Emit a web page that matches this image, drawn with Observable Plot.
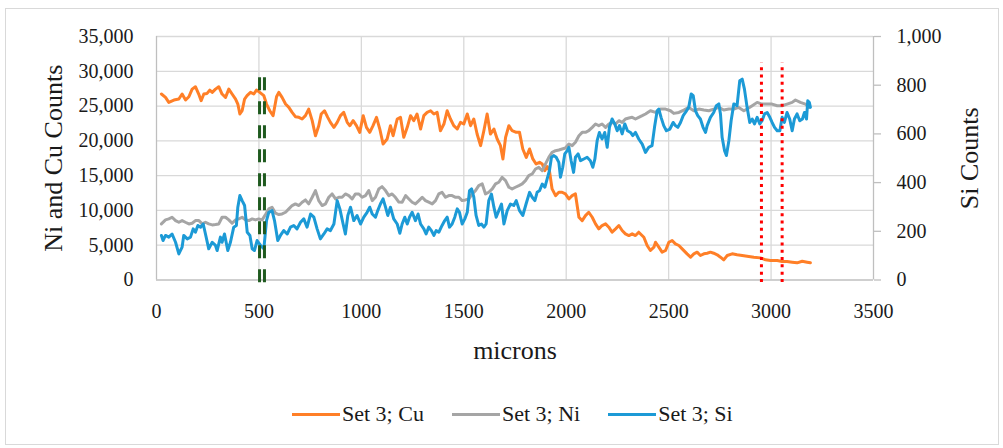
<!DOCTYPE html>
<html>
<head>
<meta charset="utf-8">
<script src="https://cdn.jsdelivr.net/npm/d3@7"></script>
<script src="https://cdn.jsdelivr.net/npm/@observablehq/plot@0.6"></script>
<style>
  html, body { margin: 0; padding: 0; background: #fff; }
  #wrap { position: relative; width: 1003px; height: 448px; font-family: "Liberation Serif", serif; color: #1a1a1a; }
  #frame { position: absolute; left: 5px; top: 8px; width: 994px; height: 437px; border: 1px solid #d9d9d9; box-sizing: border-box; pointer-events: none; }
  #legend { display: flex; align-items: center; height: 68px; padding-left: 292px; font-size: 22px; }
  .item { display: flex; align-items: center; margin-right: 28px; }
  .swatch { display: inline-block; width: 48px; height: 3px; margin-right: 2px; }
</style>
</head>
<body>
<div id="wrap"><div id="frame"></div></div>
<script>
// Line scan profile, Set 3: Cu and Ni counts (left axis), Si counts (right axis)
const cuMicrons = [24,44,60,85,109,125,142,158,174,190,206,218,231,247,260,272,288,304,320,337,353,369,386,397,407,418,430,442,459,475,488,504,524,537,553,569,586,597,613,630,646,662,678,695,711,727,743,760,776,792,804,820,836,849,866,882,898,914,931,944,960,976,992,1009,1025,1041,1057,1074,1090,1106,1126,1142,1155,1175,1191,1207,1224,1240,1256,1272,1289,1305,1321,1338,1354,1370,1386,1403,1419,1435,1451,1468,1484,1500,1517,1533,1549,1565,1582,1598,1614,1630,1647,1663,1679,1691,1704,1720,1736,1756,1772,1788,1805,1821,1837,1853,1870,1883,1896,1907,1918,1931,1948,1964,1980,1996,2013,2029,2045,2062,2078,2094,2110,2127,2143,2159,2175,2192,2208,2224,2241,2257,2273,2289,2306,2322,2338,2354,2379,2395,2411,2428,2436,2452,2468,2485,2501,2517,2533,2550,2566,2590,2607,2623,2639,2655,2672,2688,2704,2720,2737,2753,2769,2786,2810,2834,2859,2883,2916,2948,2973,2997,3030,3054,3078,3103,3127,3152,3176,3192];
const cuCounts = [26730,26250,25530,25870,26010,26730,25870,26340,27440,27780,26730,25770,26730,26820,27300,26970,27440,27780,26730,26250,27440,26730,26010,25290,23860,24330,26010,26490,26970,26730,27300,26970,26490,25290,24330,23620,26340,26970,26250,25290,24810,24090,23470,23380,23140,23620,24570,22900,20740,22180,23860,24330,23380,22660,21940,22660,23620,24090,22660,22180,22900,22180,21220,23620,21940,21220,22180,23380,21700,19550,20270,22180,20740,23140,23380,20510,21940,23620,22900,23860,21700,23620,24090,24330,23860,24090,21460,22420,24330,23140,22180,21700,22660,22420,23860,22180,23140,20980,19310,21460,23860,20980,21700,20270,19310,17400,20510,22180,21460,21220,21220,18830,17630,18830,17400,16680,16920,16680,15720,16300,15720,13090,12130,12610,12610,12370,11650,12130,12370,9020,8540,9260,9740,9020,8070,7350,7830,8070,7590,6870,7350,7830,7110,6630,6390,6630,6390,6870,6150,4960,4240,4720,5430,4720,4000,4240,5430,5670,5190,4960,4480,3760,3280,3760,4000,3520,3760,3850,4000,3850,3620,3280,2900,3520,3760,3620,3520,3420,3280,3180,2900,2800,2800,2660,2660,2560,2470,2700,2560,2470];

const niMicrons = [24,44,60,76,93,109,125,141,158,174,190,207,223,239,255,272,288,304,320,337,353,369,386,402,418,434,451,467,483,499,516,532,548,564,581,597,613,630,646,662,678,695,711,727,743,760,776,792,809,825,841,857,874,890,906,922,939,955,971,988,1004,1020,1036,1053,1069,1085,1101,1118,1134,1150,1166,1183,1199,1216,1232,1248,1264,1281,1297,1313,1329,1346,1362,1378,1394,1411,1427,1443,1460,1476,1492,1508,1525,1541,1557,1573,1590,1606,1622,1639,1655,1671,1687,1704,1720,1736,1752,1769,1785,1801,1817,1834,1850,1866,1883,1899,1915,1931,1948,1964,1980,1996,2013,2029,2045,2062,2078,2094,2110,2127,2143,2159,2175,2192,2208,2224,2241,2257,2273,2289,2306,2322,2338,2354,2371,2387,2411,2436,2460,2485,2509,2525,2550,2574,2598,2623,2647,2672,2696,2720,2745,2769,2794,2818,2842,2867,2883,2908,2932,2956,2981,3005,3030,3054,3078,3103,3119,3143,3168,3184];
const niCounts = [8060,8640,8780,9020,8540,8300,8540,8300,8060,8160,8540,8540,8060,8300,8060,7920,7970,8060,9020,9020,8640,8160,8640,8780,9020,8640,8540,8780,8640,8780,8640,9410,10220,10460,9600,9410,9500,9740,10220,10700,10940,10700,11180,11510,10940,11890,12850,11410,10700,10940,11890,12370,11650,11890,11890,12370,12130,11650,12370,12370,11890,12130,12850,11410,11890,13090,13420,12850,12130,12370,11890,11200,11180,12130,11650,11180,10940,11410,11890,11410,11180,10940,11410,12370,12610,11890,12130,12130,11890,11890,11410,11510,11650,12370,12850,13570,13810,12370,12610,13090,13810,14050,14760,14290,13330,13090,13330,13570,13810,14290,15000,15240,15960,16200,15720,16680,17630,18350,18590,18690,18830,18970,19550,19310,19790,20740,21220,21220,21460,21940,22420,22180,22420,21940,22420,22660,22420,22900,22660,23140,23280,23380,23140,23380,23620,23860,24330,24090,24570,24570,24330,23950,24090,24430,24810,24330,24570,24430,24330,24570,24810,24430,24570,24570,24810,24330,24570,25050,25530,25290,25290,25290,25050,25050,25290,25530,25870,25530,25290,24810];

const siMicrons = [24,32,44,60,76,93,109,125,133,150,166,179,190,202,215,228,239,255,272,288,296,312,320,332,348,361,377,390,397,407,418,430,443,456,467,478,491,508,524,537,548,564,576,592,605,621,638,654,670,686,703,719,735,752,768,784,800,817,833,849,866,882,895,911,922,934,947,963,979,996,1012,1028,1041,1053,1069,1080,1093,1106,1118,1129,1142,1158,1175,1188,1199,1212,1224,1235,1248,1264,1277,1289,1305,1316,1329,1342,1354,1365,1378,1394,1407,1419,1430,1443,1456,1468,1479,1492,1505,1517,1528,1538,1549,1560,1573,1586,1598,1609,1622,1635,1647,1658,1671,1684,1696,1712,1728,1744,1756,1772,1788,1804,1821,1834,1847,1858,1870,1883,1896,1907,1918,1928,1940,1951,1964,1972,1983,1993,2005,2013,2024,2036,2045,2058,2070,2086,2102,2118,2130,2140,2151,2162,2175,2188,2200,2211,2224,2237,2249,2260,2273,2286,2299,2314,2325,2338,2354,2371,2387,2403,2419,2431,2444,2452,2463,2476,2489,2506,2522,2533,2545,2558,2571,2582,2598,2610,2620,2631,2642,2655,2668,2680,2688,2704,2720,2733,2745,2753,2761,2773,2782,2794,2805,2818,2834,2847,2859,2870,2883,2896,2908,2919,2932,2945,2956,2968,2981,2994,3005,3017,3030,3043,3054,3065,3078,3091,3103,3114,3127,3140,3153,3163,3173,3179,3187,3192];
const siCounts = [183,162,183,176,189,155,107,135,183,169,176,210,196,224,217,230,189,128,155,142,121,176,155,189,121,155,217,224,299,347,326,306,196,183,128,121,162,142,128,244,278,285,244,162,183,203,189,217,224,210,237,251,217,271,258,210,169,189,210,203,230,326,292,230,189,265,299,244,265,230,258,278,299,271,258,285,312,333,299,265,299,251,230,192,230,258,230,258,278,244,271,230,210,189,217,203,183,203,196,224,244,258,217,230,258,292,278,230,251,278,367,374,340,265,224,230,217,230,326,353,299,258,285,312,230,285,312,306,326,285,265,312,360,340,326,360,367,394,381,415,449,504,511,504,483,422,463,518,531,545,490,442,504,518,490,497,504,490,463,497,572,606,579,606,545,627,661,641,613,634,600,641,613,606,593,606,579,558,524,545,552,627,695,702,668,634,613,620,647,634,627,647,675,688,709,764,757,695,675,661,627,606,634,668,688,716,723,682,586,531,511,572,654,723,716,818,825,784,709,647,661,641,668,641,654,682,688,668,647,627,613,613,668,647,688,661,613,661,682,654,661,688,661,736,729,709];

// Boundary markers (microns)
const greenMarkers = [503, 527];
const redMarkers = [2953, 3054];

// Axis ticks
const xTicks = [0, 500, 1000, 1500, 2000, 2500, 3000, 3500];
const leftTicks = [0, 5000, 10000, 15000, 20000, 25000, 30000, 35000];
const rightTicks = [0, 200, 400, 600, 800, 1000];

const series = [
  {name: "Set 3; Cu", color: "#ff7f27"},
  {name: "Set 3; Ni", color: "#a5a5a5"},
  {name: "Set 3; Si", color: "#1c9ad6"}
];

// Si is drawn on the secondary axis: 0–1000 shares the pixel range of 0–35,000
const SI_SCALE = 35000 / 1000;

const cu = cuMicrons.map((m, i) => ({m, v: cuCounts[i]}));
const ni = niMicrons.map((m, i) => ({m, v: niCounts[i]}));
const si = siMicrons.map((m, i) => ({m, v: siCounts[i] * SI_SCALE}));

const axisStroke = "#bfbfbf";
const gridStroke = "#d9d9d9";
const textColor = "#1a1a1a";

const chart = Plot.plot({
  width: 1003,
  height: 380,
  marginLeft: 156,
  marginRight: 130,
  marginTop: 36,
  marginBottom: 100.5,
  style: {fontFamily: "Liberation Serif, serif", fontSize: "20px", color: textColor, background: "transparent", overflow: "visible"},
  x: {domain: [0, 3500]},
  y: {domain: [0, 35000]},
  marks: [
    Plot.gridY({ticks: leftTicks.filter(d => d > 0), stroke: gridStroke, strokeOpacity: 1, strokeWidth: 1.3}),
    Plot.gridX({ticks: xTicks.filter(d => d > 0 && d < 3500), stroke: gridStroke, strokeOpacity: 1, strokeWidth: 1.3}),
    Plot.ruleX([0, 3500], {stroke: axisStroke, strokeWidth: 1.3}),
    Plot.ruleY([0], {stroke: axisStroke, strokeWidth: 1.3}),
    Plot.axisY({ticks: leftTicks, tickFormat: d3.format(","), tickSize: 0, tickPadding: 23, label: null, fontSize: 20, fill: textColor}),
    Plot.axisY({anchor: "right", ticks: rightTicks.map(d => d * SI_SCALE), tickFormat: d => d3.format(",")(Math.round(d / SI_SCALE)), tickSize: 7, tickPadding: 16, label: null, fontSize: 20, stroke: axisStroke, strokeWidth: 1.3, fill: textColor}),
    Plot.axisX({ticks: xTicks, tickFormat: d3.format("d"), tickSize: 0, tickPadding: 24, label: null, fontSize: 20, fill: textColor}),
    Plot.text(["Ni and Cu Counts"], {frameAnchor: "left", dx: -103, rotate: -90, textAnchor: "middle", lineAnchor: "middle", fontSize: 26, fill: textColor}),
    Plot.text(["Si Counts"], {frameAnchor: "right", dx: 96, rotate: -90, textAnchor: "middle", lineAnchor: "middle", fontSize: 26, fill: textColor}),
    Plot.text(["microns"], {frameAnchor: "bottom", dy: 70.5, textAnchor: "middle", lineAnchor: "middle", fontSize: 26, fill: textColor}),
    Plot.line(cu, {x: "m", y: "v", stroke: series[0].color, strokeWidth: 3, strokeLinejoin: "round"}),
    Plot.line(ni, {x: "m", y: "v", stroke: series[1].color, strokeWidth: 3, strokeLinejoin: "round"}),
    Plot.line(si, {x: "m", y: "v", stroke: series[2].color, strokeWidth: 3, strokeLinejoin: "round"}),
    Plot.ruleX(greenMarkers, {y1: -400, y2: 30550, stroke: "#1f5a1f", strokeWidth: 3, strokeDasharray: "13,11"}),
    Plot.ruleX(redMarkers, {y1: -350, y2: 31150, stroke: "#ff0000", strokeWidth: 3, strokeDasharray: "3,4.3"})
  ]
});

const wrap = document.getElementById("wrap");
wrap.appendChild(chart);

const legend = document.createElement("div");
legend.id = "legend";
for (const s of series) {
  const item = document.createElement("div");
  item.className = "item";
  const sw = document.createElement("span");
  sw.className = "swatch";
  sw.style.background = s.color;
  const label = document.createElement("span");
  label.textContent = s.name;
  item.appendChild(sw);
  item.appendChild(label);
  legend.appendChild(item);
}
wrap.appendChild(legend);
</script>
</body>
</html>
